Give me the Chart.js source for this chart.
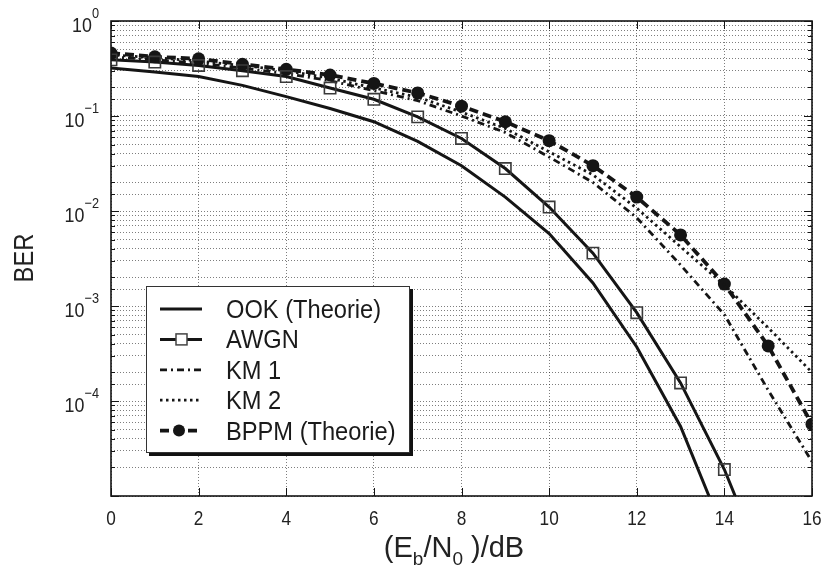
<!DOCTYPE html>
<html>
<head>
<meta charset="utf-8">
<script src="https://cdn.jsdelivr.net/npm/chart.js@4.4.0/dist/chart.umd.min.js"></script>
<style>
  html, body { margin: 0; padding: 0; background: #fff; }
  #wrap { width: 824px; height: 570px; }
</style>
</head>
<body>
<div id="wrap"><canvas id="chart" width="824" height="570"></canvas></div>
<script>
// BER over Eb/N0
const ebn0 = [0, 1, 2, 3, 4, 5, 6, 7, 8, 9, 10, 11, 12, 13, 14, 15, 16];
const ook  = [0.32, 0.29, 0.26, 0.21, 0.16, 0.12, 0.087, 0.054, 0.030, 0.014, 0.0058, 0.00175, 3.7e-4, 5.4e-5, 4e-6];
const awgn = [0.39, 0.37, 0.34, 0.30, 0.26, 0.197, 0.15, 0.098, 0.058, 0.028, 0.011, 0.0036, 8.5e-4, 1.55e-4, 1.9e-5, 1.4e-6];
const km1  = [0.42, 0.39, 0.36, 0.32, 0.28, 0.235, 0.185, 0.145, 0.10, 0.067, 0.037, 0.020, 0.0085, 0.0027, 8.1e-4, 1.3e-4, 2.3e-5];
const km2  = [0.44, 0.41, 0.38, 0.34, 0.30, 0.25, 0.197, 0.158, 0.11, 0.074, 0.042, 0.024, 0.0107, 0.0042, 0.00166, 5.9e-4, 2.0e-4];
const bppm = [0.46, 0.42, 0.40, 0.35, 0.31, 0.27, 0.22, 0.175, 0.127, 0.087, 0.055, 0.030, 0.014, 0.0056, 0.0017, 3.8e-4, 5.7e-5];

const seriesNames = ['OOK (Theorie)', 'AWGN', 'KM 1', 'KM 2', 'BPPM (Theorie)'];
const yTickExps = [0, -1, -2, -3, -4];
const xTickLabels = ['0', '2', '4', '6', '8', '10', '12', '14', '16'];

const FONT = "'Liberation Sans', Arial, Helvetica, sans-serif";
const INK = '#151515';

function pts(arr) {
  return arr.map((v, i) => ({ x: ebn0[i], y: v }));
}

// draws text squeezed horizontally (the original uses a narrow Helvetica)
function drawText(ctx, s, x, y, size, sx, align) {
  ctx.save();
  ctx.font = size + 'px ' + FONT;
  ctx.textBaseline = 'alphabetic';
  const w = ctx.measureText(s).width * sx;
  const x0 = align === 'center' ? x - w / 2 : (align === 'right' ? x - w : x);
  ctx.translate(x0, y);
  ctx.scale(sx, 1);
  ctx.fillText(s, 0, 0);
  ctx.restore();
  return w;
}
function textWidth(ctx, s, size, sx) {
  ctx.save();
  ctx.font = size + 'px ' + FONT;
  const w = ctx.measureText(s).width * sx;
  ctx.restore();
  return w;
}

const lineStyles = [
  { dash: [], width: 3 },
  { dash: [], width: 3 },
  { dash: [7, 4, 2, 4], width: 2.8 },
  { dash: [2.5, 3.5], width: 2.8 },
  { dash: [9, 5], width: 3.8 }
];

const decor = {
  id: 'decor',
  afterDraw(chart) {
    const ctx = chart.ctx;
    const a = chart.chartArea;
    const xs = chart.scales.x, ys = chart.scales.y;
    ctx.save();
    ctx.fillStyle = INK;
    ctx.strokeStyle = INK;

    // inward ticks
    ctx.lineWidth = 1;
    ys.ticks.forEach(t => {
      const py = Math.round(ys.getPixelForValue(t.value)) + 0.5;
      const e = Math.log10(t.value);
      const len = Math.abs(e - Math.round(e)) < 1e-6 ? 8 : 4;
      ctx.beginPath();
      ctx.moveTo(a.left, py); ctx.lineTo(a.left + len, py);
      ctx.moveTo(a.right, py); ctx.lineTo(a.right - len, py);
      ctx.stroke();
    });
    xs.ticks.forEach(t => {
      const px = Math.round(xs.getPixelForValue(t.value)) + 0.5;
      ctx.beginPath();
      ctx.moveTo(px, a.bottom); ctx.lineTo(px, a.bottom - 8);
      ctx.moveTo(px, a.top); ctx.lineTo(px, a.top + 8);
      ctx.stroke();
    });

    // frame
    ctx.lineWidth = 1.6;
    ctx.strokeRect(a.left, a.top, a.right - a.left, a.bottom - a.top);

    // y tick labels 10^n
    ctx.fillStyle = '#222';
    yTickExps.forEach(e => {
      const py = ys.getPixelForValue(Math.pow(10, e));
      const sup = e === 0 ? '0' : '\u2212' + Math.abs(e);
      const sw = textWidth(ctx, sup, 15, 0.85);
      const right = 99;
      drawText(ctx, sup, right, py - 3, 15, 0.85, 'right');
      drawText(ctx, '10', right - sw, py + 11, 21, 0.85, 'right');
    });

    // x tick labels
    xs.ticks.forEach((t, i) => {
      const px = xs.getPixelForValue(t.value);
      drawText(ctx, xTickLabels[i], px, a.bottom + 29, 21, 0.82, 'center');
    });

    // x title with subscripts
    const parts = [['(E', 29, 0], ['b', 19, 8], ['/N', 29, 0], ['0', 19, 8], [' )/dB', 29, 0]];
    let total = 0;
    parts.forEach(p => total += textWidth(ctx, p[0], p[1], 1.0));
    let cx = 454 - total / 2;
    parts.forEach(p => {
      cx += drawText(ctx, p[0], cx, 557 + p[2], p[1], 1.0, 'left');
    });

    // y title
    ctx.save();
    ctx.translate(33, 258);
    ctx.rotate(-Math.PI / 2);
    drawText(ctx, 'BER', 0, 0, 28, 0.85, 'center');
    ctx.restore();

    // legend box with shadow
    const L = 146, T = 286, R = 409, B = 452;
    ctx.fillStyle = '#111';
    ctx.fillRect(L + 3, T + 3, R - L + 1, B - T + 1);
    ctx.fillStyle = '#fff';
    ctx.fillRect(L, T, R - L, B - T);
    ctx.lineWidth = 1;
    ctx.strokeStyle = '#333';
    ctx.strokeRect(L + 0.5, T + 0.5, R - L, B - T);

    seriesNames.forEach((name, i) => {
      const y = 309 + i * 30.4;
      const st = lineStyles[i];
      ctx.save();
      ctx.strokeStyle = INK;
      ctx.lineWidth = st.width;
      ctx.setLineDash(st.dash);
      ctx.beginPath();
      ctx.moveTo(160, y); ctx.lineTo(202, y);
      ctx.stroke();
      ctx.setLineDash([]);
      if (i === 1) {
        ctx.fillStyle = '#fff';
        ctx.fillRect(176, y - 5.5, 11, 11);
        ctx.lineWidth = 1.5;
        ctx.strokeStyle = '#444';
        ctx.strokeRect(176, y - 5.5, 11, 11);
      } else if (i === 4) {
        ctx.fillStyle = INK;
        ctx.beginPath();
        ctx.arc(179, y, 6, 0, Math.PI * 2);
        ctx.fill();
      }
      ctx.restore();
      ctx.fillStyle = '#1a1a1a';
      drawText(ctx, name, 226, y + 9, 26, 0.91, 'left');
    });

    ctx.restore();
  }
};

const gridOpts = {
  color: 'rgba(40,40,40,0.6)',
  lineWidth: 1,
  drawTicks: false
};

new Chart(document.getElementById('chart'), {
  type: 'line',
  data: {
    datasets: [
      {
        label: seriesNames[0], data: pts(ook),
        borderColor: INK, borderWidth: 3, pointRadius: 0, tension: 0
      },
      {
        label: seriesNames[1], data: pts(awgn),
        borderColor: INK, borderWidth: 3, tension: 0,
        pointStyle: 'rect', pointRadius: 8,
        pointBackgroundColor: 'rgba(255,255,255,0)', pointBorderColor: '#3a3a3a', pointBorderWidth: 1.6
      },
      {
        label: seriesNames[2], data: pts(km1),
        borderColor: INK, borderWidth: 2.8, borderDash: [7, 4, 2, 4], pointRadius: 0, tension: 0
      },
      {
        label: seriesNames[3], data: pts(km2),
        borderColor: INK, borderWidth: 2.8, borderDash: [2.5, 3.5], pointRadius: 0, tension: 0
      },
      {
        label: seriesNames[4], data: pts(bppm),
        borderColor: INK, borderWidth: 3.8, borderDash: [9, 5], tension: 0,
        pointStyle: 'circle', pointRadius: 6.5,
        pointBackgroundColor: INK, pointBorderColor: INK, pointBorderWidth: 0
      }
    ]
  },
  options: {
    responsive: false,
    animation: false,
    devicePixelRatio: 1,
    layout: { padding: { top: 21, right: 12, left: 0, bottom: 0 } },
    plugins: { legend: { display: false }, tooltip: { enabled: false } },
    scales: {
      x: {
        type: 'linear', min: 0, max: 16,
        ticks: { display: false, stepSize: 2 },
        grid: gridOpts,
        border: { display: false, dash: [1, 2] },
        afterFit: s => { s.height = 74; }
      },
      y: {
        type: 'logarithmic', min: 1e-5, max: 1,
        ticks: { display: false },
        grid: gridOpts,
        border: { display: false, dash: [1, 2] },
        afterFit: s => { s.width = 111; }
      }
    }
  },
  plugins: [decor]
});
</script>
</body>
</html>
